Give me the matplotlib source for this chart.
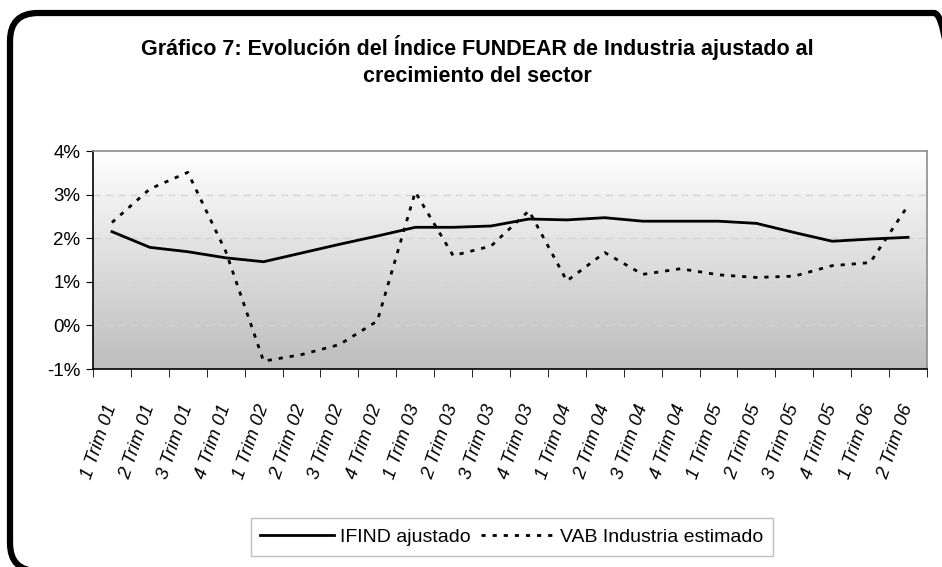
import numpy as np
import matplotlib.pyplot as plt
from matplotlib.patches import FancyBboxPatch
from matplotlib.colors import LinearSegmentedColormap
from matplotlib.ticker import FixedLocator, PercentFormatter

plt.rcParams['font.family'] = ['Liberation Sans', 'DejaVu Sans']
plt.rcParams['axes.unicode_minus'] = False

trimestres = ["1 Trim 01", "2 Trim 01", "3 Trim 01", "4 Trim 01",
              "1 Trim 02", "2 Trim 02", "3 Trim 02", "4 Trim 02",
              "1 Trim 03", "2 Trim 03", "3 Trim 03", "4 Trim 03",
              "1 Trim 04", "2 Trim 04", "3 Trim 04", "4 Trim 04",
              "1 Trim 05", "2 Trim 05", "3 Trim 05", "4 Trim 05",
              "1 Trim 06", "2 Trim 06"]

ifind = [2.15, 1.79, 1.69, 1.55, 1.46, 1.66, 1.86, 2.05, 2.25, 2.25, 2.28,
         2.44, 2.42, 2.47, 2.39, 2.39, 2.39, 2.34, 2.13, 1.93, 1.98, 2.02]

vab = [2.36, 3.13, 3.51, 1.70, -0.82, -0.67, -0.44, 0.10, 3.06, 1.60, 1.82,
       2.63, 1.02, 1.67, 1.17, 1.30, 1.16, 1.10, 1.13, 1.37, 1.44, 2.75]

fig = plt.figure(figsize=(9.42, 5.67), dpi=100)

# marco redondeado (en pixeles, y hacia arriba)
fondo = fig.add_axes([0, 0, 1, 1], zorder=-5)
fondo.set_xlim(0, 942)
fondo.set_ylim(0, 567)
fondo.axis("off")
marco = FancyBboxPatch((10, 567 - 571), 952, 558,
                       boxstyle="round,pad=0,rounding_size=28",
                       fill=False, edgecolor="black", linewidth=4.5,
                       clip_on=False)
fondo.add_patch(marco)

fig.text(477 / 942, 1 - 47 / 567,
         "Gráfico 7: Evolución del Índice FUNDEAR de Industria ajustado al",
         ha="center", va="center", fontsize=15.5, fontweight="bold")
fig.text(477 / 942, 1 - 77 / 567, "crecimiento del sector",
         ha="center", va="center", fontsize=15.5, fontweight="bold")

ax = fig.add_axes([93 / 942, 1 - 369 / 567, 834 / 942, 218 / 567])

x = np.arange(len(trimestres))
ax.set_xlim(-0.5, len(trimestres) - 0.5)
ax.set_ylim(-1, 4)

# fondo degradado
grad = np.linspace(0, 1, 256).reshape(-1, 1)
cmap = LinearSegmentedColormap.from_list("g", ["#ffffff", "#bdbdbd"])
ax.imshow(grad, cmap=cmap, aspect="auto", origin="upper",
          extent=(-0.5, len(trimestres) - 0.5, -1, 4), zorder=0)

for v in [0, 1, 2, 3]:
    ax.axhline(v, color="#d4d4d4", linestyle=(0, (5, 4)), linewidth=1, zorder=1)

ax.plot(x, ifind, color="black", linewidth=2, zorder=3, label="IFIND ajustado")
ax.plot(x, vab, color="black", linewidth=2, linestyle=(0, (1.5, 2.5)),
        zorder=3, label="VAB Industria estimado")

ax.set_yticks([-1, 0, 1, 2, 3, 4])
ax.yaxis.set_major_formatter(PercentFormatter(decimals=0))
ax.tick_params(axis="y", labelsize=13.5, length=5, color="black", pad=4)

ax.set_xticks(x)
ax.set_xticklabels(trimestres, rotation=71, ha="right", va="center",
                   rotation_mode="anchor", fontsize=13.5, style="italic")
ax.tick_params(axis="x", length=0, pad=26)
ax.xaxis.set_minor_locator(FixedLocator(np.arange(-0.5, len(trimestres), 1)))
ax.tick_params(axis="x", which="minor", length=6, color="black")

for s in ["left", "bottom"]:
    ax.spines[s].set_color("black")
    ax.spines[s].set_linewidth(1.2)
for s in ["top", "right"]:
    ax.spines[s].set_color("#8c8c8c")
    ax.spines[s].set_linewidth(1.2)

leg = fig.legend(loc="center", bbox_to_anchor=(512 / 942, 1 - 537 / 567),
                 ncol=2, fontsize=14, frameon=True, fancybox=False,
                 handlelength=3.8, handletextpad=0.3, columnspacing=0.5,
                 borderpad=0.5)
leg.get_frame().set_edgecolor("#b0b0b0")
leg.get_frame().set_linewidth(1)

fig.savefig("out.png", dpi=100)
